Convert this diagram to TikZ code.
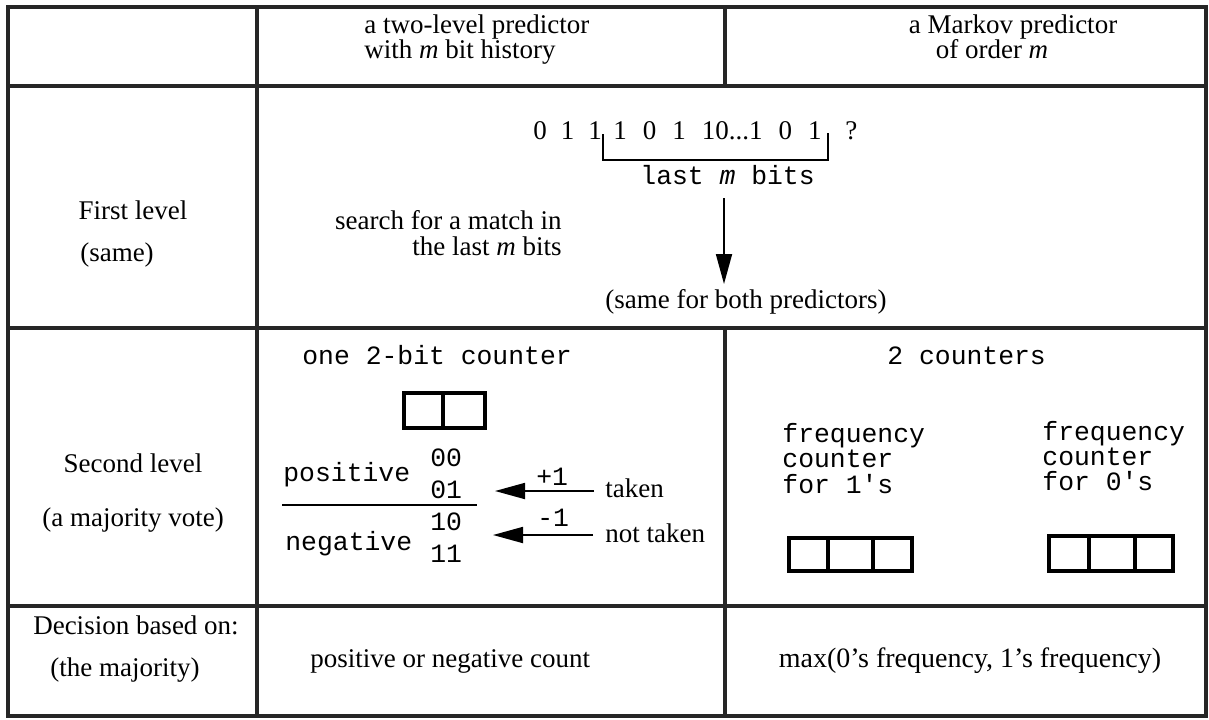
\documentclass[tikz,border=0pt]{standalone}
\usepackage{fontspec}
\setmainfont{Liberation Serif}
\setmonofont{Liberation Mono}
\usetikzlibrary{arrows.meta}
\newcommand{\widesp}{\spaceskip=7pt\relax}
\newcommand{\widersp}{\spaceskip=8pt\relax}
\begin{document}
\begin{tikzpicture}[x=0.5pt,y=-0.5pt,
  grid/.style={line width=2.1pt, draw=black!85},
  srf/.style={font=\fontsize{13.5}{16}\selectfont, inner sep=0pt, anchor=base},
  srfw/.style={srf, anchor=base west},
  srfe/.style={srf, anchor=base east},
  bits/.style={inner sep=0pt, anchor=base west, font=\fontsize{13.5}{16}\selectfont},
  mon/.style={font=\ttfamily\fontsize{13.2}{15}\selectfont, inner sep=0pt, anchor=base west},
  thin/.style={line width=0.8pt},
  arr/.style={line width=0.9pt, -{Triangle[length=15pt,width=8pt]}},
  cbox/.style={line width=2.2pt}]
\useasboundingbox (0,0) rectangle (1209,719);
% table grid
\draw[grid] (8,7) rectangle (1206,716);
\draw[grid] (8,86) -- (1206,86);
\draw[grid] (8,328) -- (1206,328);
\draw[grid] (8,606) -- (1206,606);
\draw[grid] (257,7) -- (257,716);
\draw[grid] (725,7) -- (725,86);
\draw[grid] (725,328) -- (725,716);
% header
\node[srfw] (h2a) at (364,33) {a two-level predictor};
\node[srfw] (h2b) at (364,58) {with \textit{m} bit history};
\node[srf] (h3a) at (1013,33) {a Markov predictor};
\node[srf] (h3b) at (992,58) {of order \textit{m}};
% first level
\node[srf] (fl1) at (133,219) {First level};
\node[srf] (fl2) at (117,261) {(same)};
\node[bits] (bitsA) at (533,139) {\widesp 0 1 1};
\node[bits] (bitsB) at (613,139) {\widersp 1 0 1 10...1 0 1};
\node[bits] (bitsQ) at (845,139) {?};
\coordinate (brA) at (603,134);
\coordinate (brB) at (828,133);
\draw[thin] (brA) -- (brA |- 0,160) -- (brB |- 0,160) -- (brB);
\node[mon] (lastm) at (640,184) {last \textit{m} bits};
\node[srfe] (srch1) at (562,229) {search for a match in};
\node[srfe] (srch2) at (562,255) {the last \textit{m} bits};
\coordinate (arTop) at (724,198);
\node[srfw] (same) at (605,308) {(same for both predictors)};
\draw[arr] (arTop) -- (arTop |- 0,284);
% second level, left
\node[srf] (sl1) at (133,472) {Second level};
\node[srf] (sl2) at (133,526) {(a majority vote)};
% second level, two-level predictor
\node[mon] (one2) at (302,364) {one 2-bit counter};
\draw[cbox] (404,393) rectangle (485,428);
\draw[cbox] (443,393) -- (443,428);
\node[mon] (pos) at (283,481) {positive};
\node[mon] (neg) at (285,550) {negative};
\node[mon] (s00) at (430,466) {00};
\node[mon] (s01) at (430,498) {01};
\node[mon] (s10) at (430,530) {10};
\node[mon] (s11) at (430,562) {11};
\draw[thin] (282,505) -- (477,505);
\node[srfw] (taken) at (605,497) {taken};
\node[srfw] (ntaken) at (605,542) {not taken};
\coordinate (tk) at (594,491);
\coordinate (ntk) at (593,535);
\draw[arr] (tk) -- ++(-99,0);
\draw[arr] (ntk) -- ++(-100,0);
\node[mon] (p1) at (536,485) {+1};
\node[mon] (m1) at (537,526) {-1};
% second level, Markov predictor
\node[mon] (twoc) at (887,364) {2 counters};
\node[mon] (fa1) at (782,442) {frequency};
\node[mon] (fa2) at (782,467) {counter};
\node[mon] (fa3) at (782,493) {for 1's};
\node[mon] (fb1) at (1042,440) {frequency};
\node[mon] (fb2) at (1042,465) {counter};
\node[mon] (fb3) at (1042,490) {for 0's};
\draw[cbox] (789,538) rectangle (912,571);
\draw[cbox] (828,538) -- (828,571);
\draw[cbox] (873,538) -- (873,571);
\draw[cbox] (1049,536) rectangle (1173,571);
\draw[cbox] (1089,536) -- (1089,571);
\draw[cbox] (1135,536) -- (1135,571);
% decision row
\node[srf] (d1) at (136,634) {Decision based on:};
\node[srf] (d2) at (125,676) {(the majority)};
\node[srfw] (d3) at (310,667) {positive or negative count};
\node[srf, font=\fontsize{14}{16}\selectfont] (d4) at (970,667) {max(0's frequency, 1's frequency)};
\end{tikzpicture}
\end{document}
